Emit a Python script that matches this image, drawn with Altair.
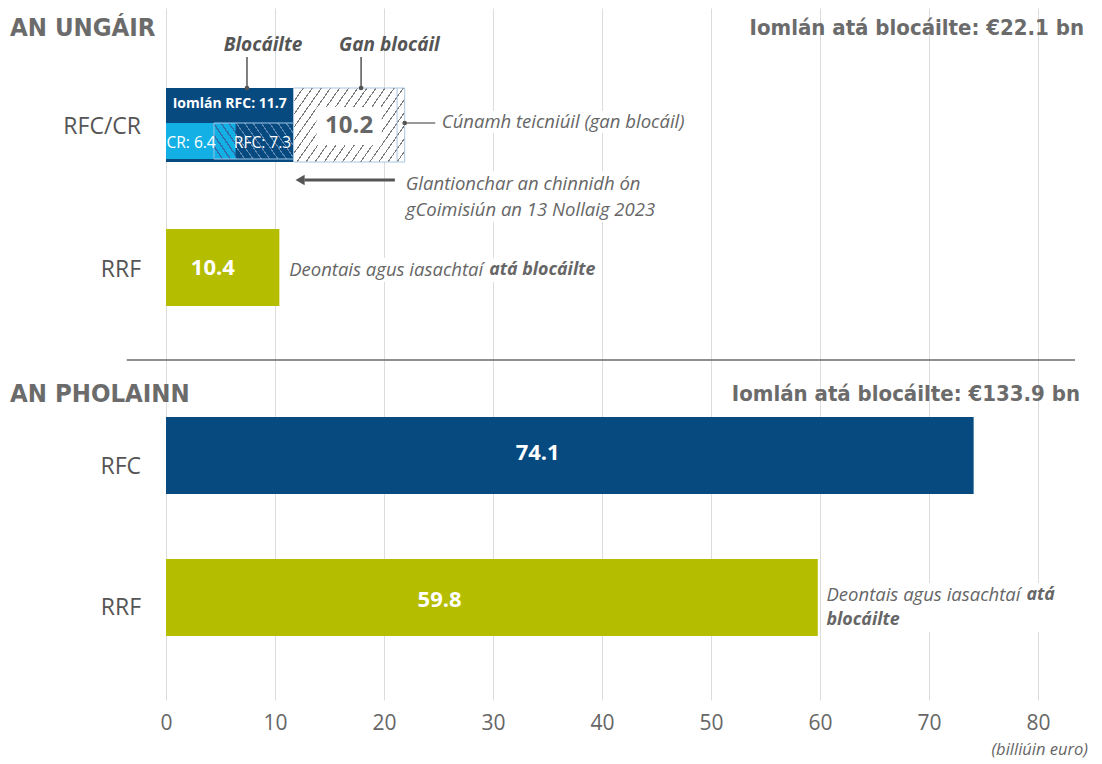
import altair as alt
import pandas as pd

# ---------------- data (billion euro) ----------------
hu_rfc_total = 11.7      # Iomlán RFC (blocked)
hu_cr = 6.4              # CR part
hu_rfc = 7.3             # RFC part
hu_unblocked = 10.2      # Gan blocáil
hu_ta = 0.7              # Cúnamh teicniúil (gan blocáil)
hu_rrf = 10.4
pl_rfc = 74.1
pl_rrf = 59.8
hu_title = "AN UNGÁIR"
pl_title = "AN PHOLAINN"
hu_total_label = "Iomlán atá blocáilte: €22.1 bn"
pl_total_label = "Iomlán atá blocáilte: €133.9 bn"
x_ticks = [0, 10, 20, 30, 40, 50, 60, 70, 80]

# ---------------- layout (vertical layout units, 0 = top of plot) ----------------
W, H = 909, 692
XMAX = 83.4
DARK = "#064a80"
LIGHT = "#13b0e6"
OLIVE = "#b5bd00"
GRAY = "#666666"
HEAD = "#6b6b6b"
GRID = "#dcdcdc"
HEAD_FONT = "DejaVu Sans Condensed, Liberation Sans Narrow, sans-serif"
BODY_FONT = "Open Sans, sans-serif"

X = alt.Scale(domain=[0, XMAX], nice=False, zero=False)
Y = alt.Scale(domain=[0, H], reverse=True, nice=False, zero=False)

overlap_start = hu_rfc_total - hu_rfc   # where RFC 7.3 starts
unblocked_end = hu_rfc_total + hu_unblocked

def xq(f="x"):
    return alt.X(f + ":Q", scale=X)

def yq(f="y"):
    return alt.Y(f + ":Q", scale=Y, axis=None)

def hatch(bg, fg, n, frac, x1, y1, x2, y2):
    stops = []
    for i in range(n):
        a = i / n
        b = (i + frac) / n
        c = (i + 1) / n
        stops += [alt.GradientStop(offset=a, color=fg), alt.GradientStop(offset=b, color=fg),
                  alt.GradientStop(offset=b, color=bg), alt.GradientStop(offset=c, color=bg)]
    return alt.LinearGradient(gradient="linear", stops=stops, x1=x1, y1=y1, x2=x2, y2=y2)

# ---- solid bars ----
bars = pd.DataFrame([
    dict(x=0, x2=hu_rfc_total, y=80, y2=154, c=DARK),
    dict(x=0, x2=overlap_start, y=115, y2=151, c=LIGHT),
    dict(x=0, x2=hu_rrf, y=221, y2=298, c=OLIVE),
    dict(x=0, x2=pl_rfc, y=409, y2=486, c=DARK),
    dict(x=0, x2=pl_rrf, y=551, y2=628, c=OLIVE),
])
base = alt.Chart(bars).mark_rect().encode(
    x=alt.X("x:Q", scale=X, axis=alt.Axis(values=x_ticks, domain=False, ticks=False, tickSize=0,
                                          labelPadding=12, labelFontSize=21, labelColor=GRAY,
                                          labelFont=BODY_FONT, gridColor=GRID, gridWidth=1, title=None,
                                          grid=True, labelFlush=False)),
    x2="x2:Q", y=yq(), y2="y2:Q",
    color=alt.Color("c:N", scale=None),
)

def rect_layer(x0, x1, y0, y1, **kw):
    d = pd.DataFrame([dict(x=x0, x2=x1, y=y0, y2=y1)])
    return alt.Chart(d).mark_rect(**kw).encode(x=xq(), x2="x2:Q", y=yq(), y2="y2:Q")

# white boxes behind annotation texts (they interrupt the gridlines, as in the original)
text_bg = alt.Chart(pd.DataFrame([
    dict(x=25.1, x2=48.5, y=103, y2=125),
    dict(x=21.9, x2=45.1, y=163, y2=214),
    dict(x=11.1, x2=39.9, y=250, y2=274),
    dict(x=60.5, x2=82.3, y=575, y2=624),
])).mark_rect(fill="white").encode(x=xq(), x2="x2:Q", y=yq(), y2="y2:Q")

overlap = rect_layer(overlap_start, hu_cr, 115, 151,
                     fill=hatch(LIGHT, "#2f6ea8", 6, 0.22, 0, 1, 0.93, -0.064))
rfc_part = rect_layer(hu_cr, hu_rfc_total, 115, 151,
                      fill=hatch(DARK, "#5d87b2", 10, 0.16, 0, 1, 1.21, 0.474))
outline = rect_layer(overlap_start, hu_rfc_total, 115, 151, fillOpacity=0, stroke="#9cc8e8", strokeWidth=1)
unblocked = rect_layer(hu_rfc_total, unblocked_end, 80, 154,
                       fill=hatch("#ffffff", "#7a7a7a", 18, 0.14, 0, 0, 1.21, 0.565),
                       stroke="#a9c6e2", strokeWidth=1)
label_bg = rect_layer(hu_rfc_total + 2.1, unblocked_end - 2.1, 99, 137, fill="#ffffff")

# ---- rules ----
def rule_layer(rows, **kw):
    d = pd.DataFrame(rows)
    enc = dict(x=xq(), y=yq())
    if "x2" in d.columns:
        enc["x2"] = "x2:Q"
    if "y2" in d.columns:
        enc["y2"] = "y2:Q"
    return alt.Chart(d).mark_rule(**kw).encode(**enc)

ta_line = rule_layer([dict(x=unblocked_end - hu_ta, y=80, y2=154)], color="#a9c6e2", strokeWidth=1)
leaders = rule_layer([dict(x=7.43, y=49, y2=80), dict(x=17.9, y=49, y2=80)], color="#555555", strokeWidth=1.5)
ta_leader = rule_layer([dict(x=unblocked_end, x2=24.7, y=115)], color="#555555", strokeWidth=1.2)
arrow_line = rule_layer([dict(x=12.7, x2=21.0, y=172)], color="#555555", strokeWidth=3)
separator = rule_layer([dict(x=-3.6, x2=XMAX, y=352)], color="#6a6a6a", strokeWidth=1.5)

dots = alt.Chart(pd.DataFrame([dict(x=7.43, y=80), dict(x=17.9, y=80), dict(x=unblocked_end, y=115)])
                 ).mark_point(filled=True, size=22, color="#555555", opacity=1).encode(x=xq(), y=yq())
arrow_head = alt.Chart(pd.DataFrame([dict(x=12.3, y=172)])).mark_point(
    shape="triangle-left", filled=True, size=110, color="#555555", opacity=1).encode(x=xq(), y=yq())

# ---- texts ----
def text_layer(rows, **kw):
    d = pd.DataFrame(rows)
    return alt.Chart(d).mark_text(**kw).encode(x=xq(), y=yq(), text="t:N")

def ptext_layer(px, rows, **kw):
    d = pd.DataFrame(rows)
    return alt.Chart(d).mark_text(**kw).encode(x=alt.value(px), y=yq(), text="t:N")

titles_l = ptext_layer(-156, [dict(y=20, t=hu_title), dict(y=386, t=pl_title)],
                       align="left", baseline="middle", font=HEAD_FONT, fontWeight="bold", fontSize=25.5, color=HEAD)
title_r1 = ptext_layer(918, [dict(y=20, t=hu_total_label)],
                       align="right", baseline="middle", font=HEAD_FONT, fontWeight="bold", fontSize=22, color=HEAD)
title_r2 = ptext_layer(914, [dict(y=386, t=pl_total_label)],
                       align="right", baseline="middle", font=HEAD_FONT, fontWeight="bold", fontSize=22, color=HEAD)
row_labels = ptext_layer(-25, [dict(y=119, t="RFC/CR"), dict(y=262, t="RRF"),
                               dict(y=459, t="RFC"), dict(y=600, t="RRF")],
                         align="right", baseline="middle", font=BODY_FONT, fontSize=23, color="#555555")
unit_note = ptext_layer(922, [dict(y=742, t="(billiúin euro)")],
                        align="right", baseline="middle", font=BODY_FONT, fontStyle="italic", fontSize=16.5, color=GRAY)

head_ann = text_layer([dict(x=8.9, y=37, t="Blocáilte"), dict(x=20.5, y=37, t="Gan blocáil")],
                      align="center", baseline="middle", font=BODY_FONT, fontStyle="italic",
                      fontWeight="bold", fontSize=19, color="#555555")
total_rfc_txt = text_layer([dict(x=hu_rfc_total / 2, y=96, t=f"Iomlán RFC: {hu_rfc_total}")],
                           align="center", baseline="middle", font=BODY_FONT, fontWeight="bold",
                           fontSize=14, color="white")
part_txt = text_layer([dict(x=overlap_start / 2 + 0.1, y=135, t=f"CR: {hu_cr}"),
                       dict(x=(hu_cr + hu_rfc_total) / 2 - 0.2, y=135, t=f"RFC: {hu_rfc}")],
                      align="center", baseline="middle", font=BODY_FONT, fontSize=15.5, color="white")
unblocked_txt = text_layer([dict(x=(hu_rfc_total + unblocked_end) / 2, y=118, t=f"{hu_unblocked}")],
                           align="center", baseline="middle", font=BODY_FONT, fontWeight="bold",
                           fontSize=24, color=GRAY)
ann_txt = text_layer([dict(x=25.3, y=114, t="Cúnamh teicniúil (gan blocáil)"),
                      dict(x=22.0, y=176, t="Glantionchar an chinnidh ón"),
                      dict(x=22.0, y=202, t="gCoimisiún an 13 Nollaig 2023")],
                     align="left", baseline="middle", font=BODY_FONT, fontStyle="italic", fontSize=18.5, color=GRAY)
bar_vals = text_layer([dict(x=4.3, y=260, t=f"{hu_rrf}"), dict(x=34.1, y=445, t=f"{pl_rfc}"),
                       dict(x=25.1, y=592, t=f"{pl_rrf}")],
                      align="center", baseline="middle", font=BODY_FONT, fontWeight="bold", fontSize=22, color="white")
grant_reg = text_layer([dict(x=11.3, y=262, t="Deontais agus iasachtaí"),
                        dict(x=60.6, y=587, t="Deontais agus iasachtaí")],
                       align="left", baseline="middle", font=BODY_FONT, fontStyle="italic", fontSize=18.5, color=GRAY)
grant_bold = text_layer([dict(x=11.3, y=262, t="atá blocáilte"),
                         dict(x=60.6, y=587, t="atá")],
                        align="left", baseline="middle", dx=200, font=BODY_FONT, fontStyle="italic",
                        fontWeight="bold", fontSize=17.8, color=GRAY)
grant_bold2 = text_layer([dict(x=60.6, y=612, t="blocáilte")],
                         align="left", baseline="middle", font=BODY_FONT, fontStyle="italic",
                         fontWeight="bold", fontSize=17.8, color=GRAY)

chart = alt.layer(
    base, text_bg, overlap, rfc_part, outline, unblocked, ta_line, label_bg,
    leaders, ta_leader, arrow_line, separator, dots, arrow_head,
    titles_l, title_r1, title_r2, row_labels, unit_note, head_ann, total_rfc_txt, part_txt,
    unblocked_txt, ann_txt, bar_vals, grant_reg, grant_bold, grant_bold2,
).properties(
    width=W, height=H,
    background="white",
    autosize=alt.AutoSizeParams(type="none"),
    padding={"left": 158, "top": 0, "right": 19, "bottom": 62},
).configure_view(strokeWidth=0, stroke="transparent")

chart.save("out.html", embed_options={"renderer": "svg", "actions": False})
